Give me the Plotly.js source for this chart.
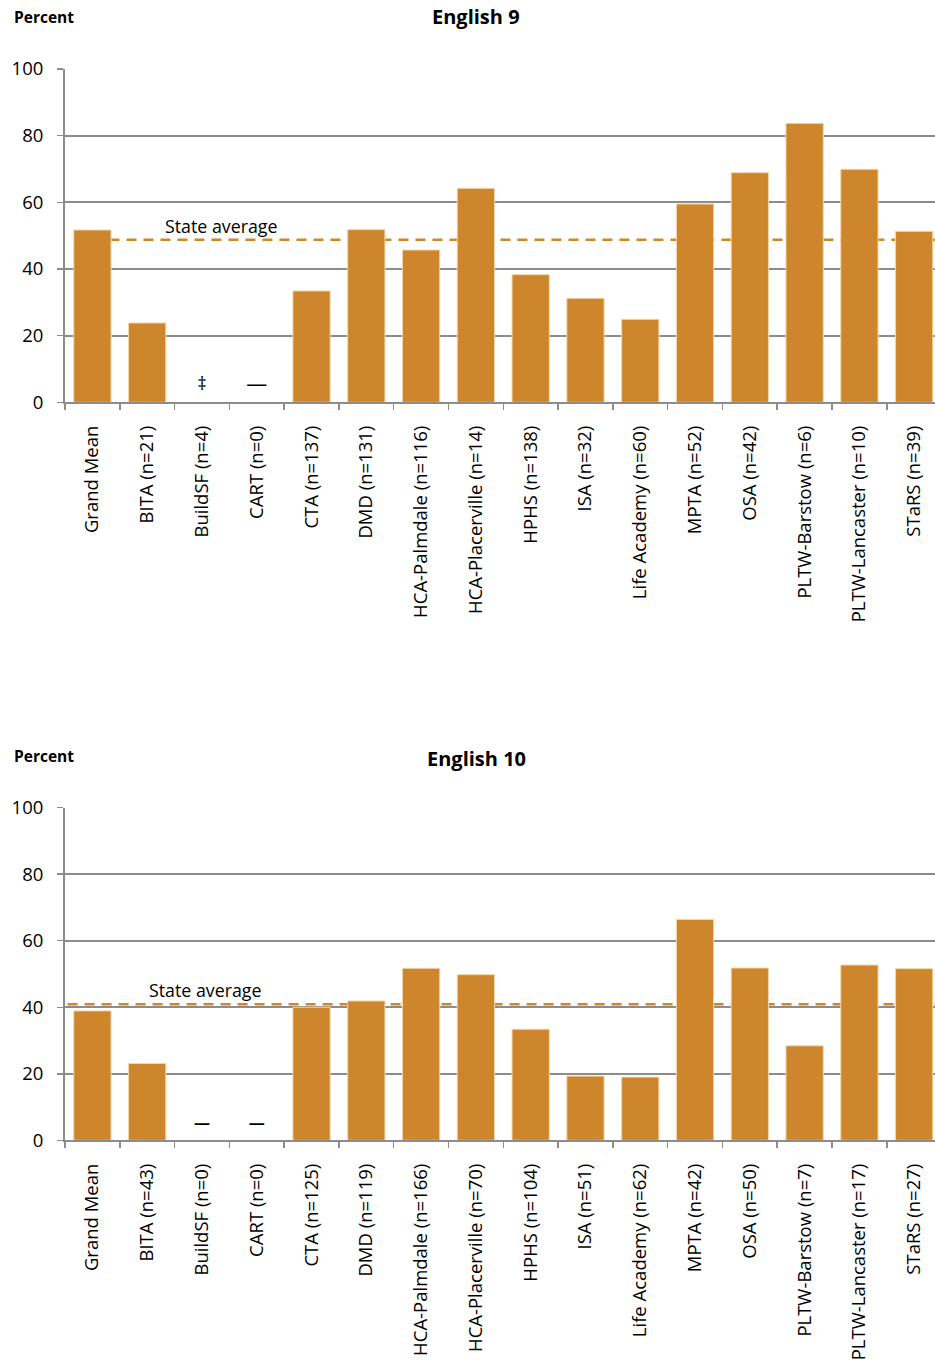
<!DOCTYPE html>
<html>
<head>
<meta charset="utf-8">
<script src="https://cdn.plot.ly/plotly-3.0.1.min.js"></script>
<style>html,body{margin:0;padding:0;background:#fff;overflow:hidden}#chart{width:935px;height:1363px}</style>
</head>
<body>
<div id="chart"></div>
<script>
// ---- Data ----
const categories9 = ["Grand Mean","BITA (n=21)","BuildSF (n=4)","CART (n=0)","CTA (n=137)","DMD (n=131)","HCA-Palmdale (n=116)","HCA-Placerville (n=14)","HPHS (n=138)","ISA (n=32)","Life Academy (n=60)","MPTA (n=52)","OSA (n=42)","PLTW-Barstow (n=6)","PLTW-Lancaster (n=10)","STaRS (n=39)"];
const values9 = [51.7, 23.8, null, null, 33.4, 51.8, 45.7, 64.2, 38.3, 31.2, 24.9, 59.5, 68.9, 83.7, 69.9, 51.3];
const marks9 = ["", "", "‡", "—", "", "", "", "", "", "", "", "", "", "", "", ""];
const stateAvg9 = 48.8;

const categories10 = ["Grand Mean","BITA (n=43)","BuildSF (n=0)","CART (n=0)","CTA (n=125)","DMD (n=119)","HCA-Palmdale (n=166)","HCA-Placerville (n=70)","HPHS (n=104)","ISA (n=51)","Life Academy (n=62)","MPTA (n=42)","OSA (n=50)","PLTW-Barstow (n=7)","PLTW-Lancaster (n=17)","STaRS (n=27)"];
const values10 = [38.9, 23.1, null, null, 40.0, 41.9, 51.7, 49.8, 33.4, 19.3, 19.0, 66.4, 51.8, 28.4, 52.7, 51.6];
const marks10 = ["", "", "—", "—", "", "", "", "", "", "", "", "", "", "", "", ""];
const stateAvg10 = 40.9;

const yTicks = [0, 20, 40, 60, 80, 100];
const titles = ["English 9", "English 10"];
const yLabel = "Percent";
const stateLabel = "State average";

// ---- Style ----
const FONT = "Open Sans, Liberation Sans, sans-serif";
const BAR = "#CD862B";
const GRID = "#8C8C8C";
const MARK_Y = 5;
const W = 935, H = 1363, ML = 65;
const px = v => (v - ML) / (W - ML);
const py = v => 1 - v / H;

function barTrace(cats, vals, xa, ya) {
  return {type: "bar", x: cats, y: vals, xaxis: xa, yaxis: ya,
    marker: {color: BAR, line: {color: "#F3D6A8", width: 1}},
    hoverinfo: "skip", showlegend: false};
}
function markTrace(cats, marks, xa, ya, dashSize, bold) {
  return {type: "scatter", mode: "text", x: cats,
    y: marks.map(m => m ? MARK_Y : null),
    text: marks.map(m => (bold && m) ? "<b>" + m + "</b>" : m),
    xaxis: xa, yaxis: ya, textposition: "middle center",
    textfont: {family: FONT, size: marks.map(m => m === "‡" ? 18 : dashSize), color: "#000"},
    hoverinfo: "skip", showlegend: false, cliponaxis: false};
}

const n = categories9.length;
const xRange = [-0.5, n - 0.62];

function xAxis(anchor, cats) {
  return {anchor: anchor, domain: [0, 1], type: "category", range: xRange,
    categoryorder: "array", categoryarray: cats,
    showgrid: false, showline: true, linecolor: GRID, linewidth: 2,
    ticks: "outside", tickson: "boundaries", ticklen: 6, tickcolor: GRID, tickwidth: 1.5,
    tickangle: -90, tickfont: {family: FONT, size: 18.5, color: "#000"},
    ticklabelstandoff: 14, fixedrange: true, automargin: false};
}
function yAxis(anchor, domain) {
  return {anchor: anchor, domain: domain, range: [0, 100], tickvals: yTicks,
    showgrid: true, gridcolor: GRID, gridwidth: 2, zeroline: false,
    showline: true, linecolor: GRID, linewidth: 2,
    ticks: "outside", ticklen: 6, tickcolor: GRID, tickwidth: 1.5,
    tickfont: {family: FONT, size: 18.5, color: "#000"}, ticklabelstandoff: 10,
    fixedrange: true, automargin: false};
}
function avgShape(xa, ya, v, x0) {
  return {type: "line", layer: "below", xref: xa + " domain", yref: ya,
    x0: x0, x1: 1, y0: v, y1: v, line: {color: BAR, width: 2.5, dash: "10px,7px"}};
}

const dom1 = [py(402.3), py(69)];
const dom2 = [py(1140.3), py(807.7)];

const data = [
  barTrace(categories9, values9, "x", "y"),
  markTrace(categories9, marks9, "x", "y", 21, false),
  barTrace(categories10, values10, "x2", "y2"),
  markTrace(categories10, marks10, "x2", "y2", 16, true)
];

const layout = {
  width: W, height: H,
  margin: {l: ML, r: 0, t: 0, b: 0},
  paper_bgcolor: "#fff", plot_bgcolor: "#fff",
  font: {family: FONT, color: "#000"},
  showlegend: false,
  bargap: 0.32,
  xaxis: xAxis("y", categories9), yaxis: yAxis("x", dom1),
  xaxis2: xAxis("y2", categories10), yaxis2: yAxis("x2", dom2),
  shapes: [avgShape("x", "y", stateAvg9, 0.012), avgShape("x2", "y2", stateAvg10, 0.003)],
  annotations: [
    {xref: "paper", yref: "paper", x: px(476), y: py(17), text: "<b>" + titles[0] + "</b>",
     showarrow: false, xanchor: "center", yanchor: "middle", font: {family: FONT, size: 20}},
    {xref: "paper", yref: "paper", x: px(476), y: py(758), text: "<b>" + titles[1] + "</b>",
     showarrow: false, xanchor: "center", yanchor: "middle", font: {family: FONT, size: 20}},
    {xref: "paper", yref: "paper", x: px(12), y: py(17), text: "<b>" + yLabel + "</b>",
     showarrow: false, xanchor: "left", yanchor: "middle", font: {family: FONT, size: 15.5}},
    {xref: "paper", yref: "paper", x: px(12), y: py(756), text: "<b>" + yLabel + "</b>",
     showarrow: false, xanchor: "left", yanchor: "middle", font: {family: FONT, size: 15.5}},
    {xref: "x", yref: "y", x: 2.35, y: stateAvg9 + 4, text: stateLabel,
     showarrow: false, xanchor: "center", yanchor: "middle", font: {family: FONT, size: 17.8}},
    {xref: "x2", yref: "y2", x: 2.05, y: stateAvg10 + 4.4, text: stateLabel,
     showarrow: false, xanchor: "center", yanchor: "middle", font: {family: FONT, size: 17.8}}
  ]
};

Plotly.newPlot("chart", data, layout, {staticPlot: true, displayModeBar: false});
</script>
</body>
</html>
